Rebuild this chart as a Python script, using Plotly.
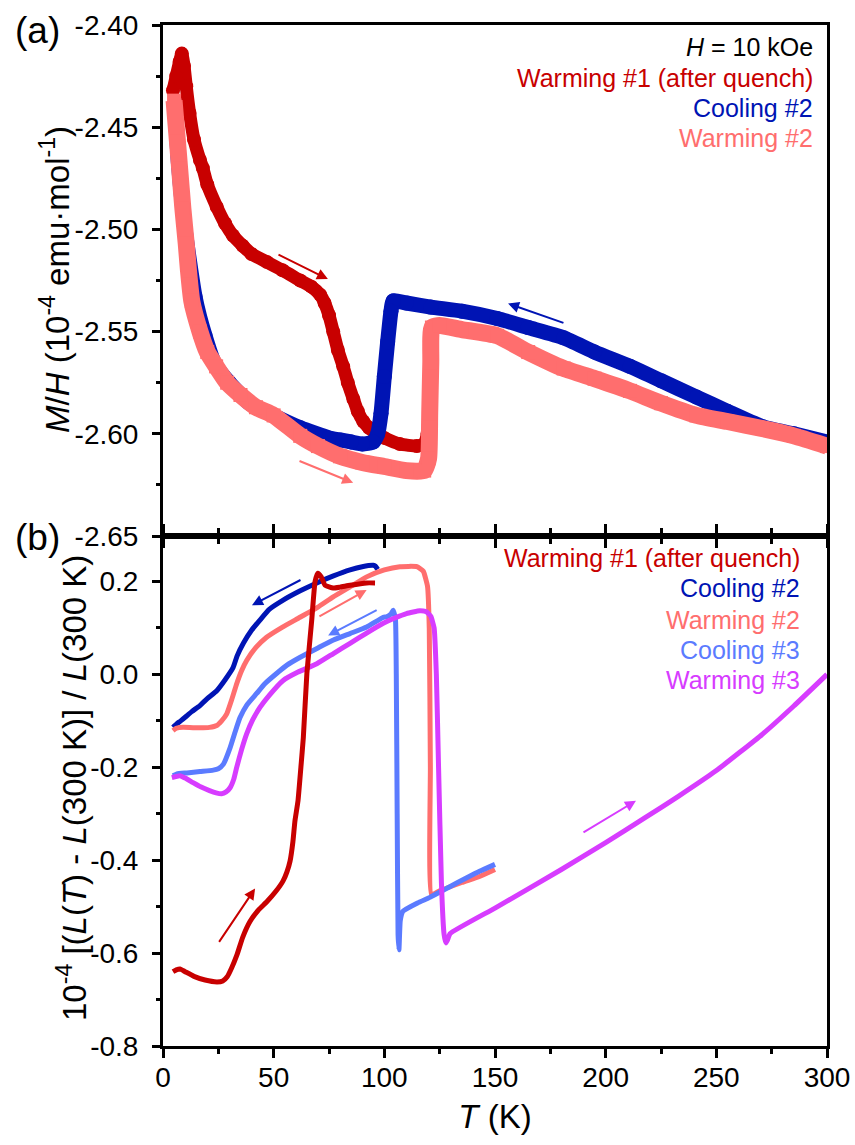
import plotly.graph_objects as go

# ---------------- Panel (a): magnetic susceptibility M/H ----------------
mh_warm1_T = [4.5, 6, 7.5, 8.5, 9.5, 10.5, 12, 14, 16.7, 18, 20, 24.3, 28, 31.6, 36, 40, 47,
              54, 62, 67, 71, 73, 75, 76.9, 79, 81.4, 83.5, 86, 88, 90.5, 93, 96.6, 100,
              107, 114.7, 118, 119.5, 120.3, 121, 121.5, 122, 125]
mh_warm1 = [-2.432, -2.425, -2.418, -2.414, -2.420, -2.430, -2.443, -2.456, -2.466, -2.470,
            -2.478, -2.489, -2.497, -2.503, -2.508, -2.512, -2.516, -2.520, -2.525, -2.528,
            -2.532, -2.536, -2.542, -2.550, -2.559, -2.567, -2.575, -2.583, -2.589, -2.594,
            -2.597, -2.600, -2.602, -2.605, -2.606, -2.605, -2.600, -2.585, -2.568, -2.556,
            -2.549, -2.547]

mh_cool2_T = [300, 285, 271, 255, 241, 225, 211, 195, 181, 165, 151, 135, 121, 110, 104,
              103, 101.5, 100, 98.5, 97, 95, 90, 85, 80, 75, 62, 48, 39, 30, 23.5, 19,
              14.5, 10, 7, 5.4]
mh_cool2 = [-2.604, -2.600, -2.5966, -2.589, -2.582, -2.574, -2.567, -2.560, -2.553, -2.548,
            -2.5436, -2.540, -2.538, -2.536, -2.535, -2.540, -2.555, -2.572, -2.590, -2.600,
            -2.604, -2.605, -2.604, -2.603, -2.602, -2.597, -2.590, -2.585, -2.575, -2.566,
            -2.552, -2.533, -2.500, -2.468, -2.440]

mh_warm2_T = [5, 6, 7.5, 9, 10.5, 11.5, 13, 16.7, 20, 24, 29, 35, 42, 50, 62, 70, 80, 90,
              100, 110, 118, 120, 120.5, 121, 121.5, 125, 135, 151, 165, 181, 195, 211, 225,
              241, 255, 271, 285, 300]
mh_warm2 = [-2.437, -2.450, -2.470, -2.490, -2.507, -2.520, -2.535, -2.550, -2.560, -2.567,
            -2.575, -2.581, -2.587, -2.591, -2.601, -2.606, -2.611, -2.614, -2.616, -2.618,
            -2.618, -2.612, -2.590, -2.565, -2.548, -2.547, -2.549, -2.552, -2.560, -2.568,
            -2.573, -2.579, -2.585, -2.591, -2.594, -2.5975, -2.601, -2.606]

# ---------------- Panel (b): relative length change ----------------
dl_warm1_T = [4.5, 6, 7.7, 10, 14, 19, 24.4, 27, 29, 31, 33.4, 36, 39.3, 43, 47, 51, 54.2,
              56, 57.4, 58.7, 59.6, 61, 62.3, 63.4, 65, 67.2, 68.7, 70, 71.5, 73.2, 76.9,
              80, 84.5, 92, 95.8]
dl_warm1 = [-0.640, -0.636, -0.634, -0.640, -0.650, -0.658, -0.662, -0.660, -0.651, -0.632,
            -0.604, -0.566, -0.532, -0.508, -0.489, -0.467, -0.445, -0.425, -0.402, -0.360,
            -0.316, -0.272, -0.200, -0.136, 0.002, 0.117, 0.200, 0.218, 0.210, 0.192, 0.186,
            0.188, 0.192, 0.197, 0.197]

dl_cool2_T = [97, 96, 95, 90, 84.5, 77, 69.5, 62, 54.3, 48, 43.8, 40, 36.3, 33.5, 31.7, 28,
              24.3, 20, 16.7, 13, 10.8, 8, 6.3, 4.5]
dl_cool2 = [0.226, 0.233, 0.235, 0.232, 0.225, 0.212, 0.197, 0.180, 0.160, 0.140, 0.117,
            0.095, 0.067, 0.040, 0.015, -0.012, -0.035, -0.052, -0.067, -0.080, -0.089,
            -0.100, -0.106, -0.114]

dl_warm2_T = [4.5, 6, 9, 16.7, 21, 24.3, 26.5, 28.8, 31, 33.3, 35.5, 37.8, 42, 46.8, 54,
              61.9, 70, 76.9, 85, 92, 100, 107, 114.7, 117.6, 119.5, 120.3, 120.8, 121.3,
              125, 135, 143, 150]
dl_warm2 = [-0.121, -0.116, -0.114, -0.115, -0.114, -0.110, -0.100, -0.085, -0.055, -0.020,
            0.008, 0.030, 0.058, 0.080, 0.102, 0.123, 0.145, 0.167, 0.190, 0.210, 0.225,
            0.232, 0.232, 0.222, 0.190, 0.100, -0.200, -0.474, -0.466, -0.448, -0.435, -0.420]

dl_cool3_T = [150, 143, 130, 120.6, 115, 108.4, 107.2, 106.6, 106.2, 105.8, 105.4, 105, 104,
              103, 101, 99.5, 92, 84.5, 77, 70, 62, 56, 51.3, 46, 42.3, 38, 34.8, 32.5,
              30.3, 27.3, 25, 22.7, 16.7, 10.8, 6.3, 4.5]
dl_cool3 = [-0.409, -0.424, -0.456, -0.480, -0.492, -0.510, -0.530, -0.593, -0.560, -0.300,
            0.000, 0.120, 0.138, 0.130, 0.124, 0.123, 0.102, 0.088, 0.074, 0.057, 0.037,
            0.020, 0.002, -0.020, -0.041, -0.065, -0.093, -0.125, -0.158, -0.193, -0.203,
            -0.206, -0.209, -0.212, -0.214, -0.218]

dl_warm3_T = [4, 7.7, 10, 13.6, 17, 21, 24, 26.5, 28.5, 30.3, 32, 33.3, 35.5, 37.8, 40.5,
              43.8, 48, 54.3, 61, 69.5, 77, 84.5, 92, 99.5, 105, 110, 116, 119, 121, 122.5,
              123.5, 124.5, 125.8, 127, 127.8, 128.5, 129.7, 150, 180, 200, 218, 233, 250,
              271, 285, 300]
dl_warm3 = [-0.222, -0.218, -0.223, -0.233, -0.242, -0.250, -0.255, -0.257, -0.253, -0.244,
            -0.225, -0.200, -0.162, -0.128, -0.098, -0.071, -0.045, -0.013, 0.005, 0.023,
            0.045, 0.067, 0.089, 0.110, 0.122, 0.131, 0.137, 0.135, 0.125, 0.100, 0.000,
            -0.200, -0.450, -0.560, -0.578, -0.572, -0.558, -0.503, -0.420, -0.362, -0.308,
            -0.262, -0.207, -0.128, -0.068, 0.000]

# ---------------- Axis ticks ----------------
x_ticks = [0, 50, 100, 150, 200, 250, 300]
x_ticktext = ["0", "50", "100", "150", "200", "250", "300"]
mh_ticks = [-2.65, -2.60, -2.55, -2.50, -2.45, -2.40]
mh_ticktext = ["-2.65", "-2.60", "-2.55", "-2.50", "-2.45", "-2.40"]
dl_ticks = [-0.8, -0.6, -0.4, -0.2, 0.0, 0.2]
dl_ticktext = ["-0.8", "-0.6", "-0.4", "-0.2", "0.0", "0.2"]

# ---------------- Colours ----------------
C_WARM1 = "#C80000"
C_COOL2 = "#0014B4"
C_WARM2 = "#FF6E6E"
C_COOL3 = "#5B7BFF"
C_WARM3 = "#D73CFF"

FONT = "Liberation Sans, Arial, sans-serif"

fig = go.Figure()

# Panel (a) traces: thick marker bands
fig.add_trace(go.Scatter(x=mh_warm1_T, y=mh_warm1, xaxis="x2", yaxis="y2", mode="lines+markers",
                         line=dict(color=C_WARM1, width=13, shape="spline", smoothing=0.5),
                         marker=dict(symbol="circle", size=14, color=C_WARM1),
                         name="Warming #1 (after quench)", showlegend=False))
fig.add_trace(go.Scatter(x=mh_cool2_T, y=mh_cool2, xaxis="x2", yaxis="y2", mode="lines+markers",
                         line=dict(color=C_COOL2, width=15, shape="spline", smoothing=0.5),
                         marker=dict(symbol="circle", size=15, color=C_COOL2),
                         name="Cooling #2", showlegend=False))
fig.add_trace(go.Scatter(x=mh_warm2_T, y=mh_warm2, xaxis="x2", yaxis="y2", mode="lines+markers",
                         line=dict(color=C_WARM2, width=17, shape="spline", smoothing=0.5),
                         marker=dict(symbol="square", size=14, color=C_WARM2),
                         name="Warming #2", showlegend=False))

# Panel (b) traces: smooth lines
for xs, ys, col, nm in [(dl_cool2_T, dl_cool2, C_COOL2, "Cooling #2"),
                        (dl_warm2_T, dl_warm2, C_WARM2, "Warming #2"),
                        (dl_cool3_T, dl_cool3, C_COOL3, "Cooling #3"),
                        (dl_warm3_T, dl_warm3, C_WARM3, "Warming #3"),
                        (dl_warm1_T, dl_warm1, C_WARM1, "Warming #1 (after quench)")]:
    fig.add_trace(go.Scatter(x=xs, y=ys, xaxis="x", yaxis="y", mode="lines",
                             line=dict(color=col, width=5, shape="spline", smoothing=0.4),
                             name=nm, showlegend=False))

axis_common = dict(showline=True, linecolor="black", linewidth=3, showgrid=False,
                   zeroline=False, tickcolor="black", tickwidth=2.5, automargin=False,
                   tickfont=dict(family=FONT, size=28, color="black"))

fig.update_layout(
    width=855, height=1145,
    margin=dict(l=163, r=28, t=25, b=99),
    paper_bgcolor="white", plot_bgcolor="white",
    font=dict(family=FONT, color="black"),
    xaxis=dict(domain=[0, 1], range=[0, 300], anchor="y", ticks="outside", ticklen=9,
               mirror="allticks", tickvals=x_ticks, ticktext=x_ticktext, ticklabelstandoff=-5,
               minor=dict(dtick=25, tick0=0, ticks="outside", ticklen=5, tickwidth=2.5,
                          tickcolor="black"),
               title=dict(text="<i>T</i> (K)", font=dict(family=FONT, size=33), standoff=14),
               **axis_common),
    yaxis=dict(domain=[0, 0.4995], range=[-0.8, 0.298], anchor="x", ticks="outside",
               ticklen=8, mirror=True, tickvals=dl_ticks, ticktext=dl_ticktext,
               ticklabelstandoff=8,
               minor=dict(dtick=0.1, tick0=0, ticks="outside", ticklen=4, tickwidth=2.5,
                          tickcolor="black"),
               **axis_common),
    xaxis2=dict(domain=[0, 1], range=[0, 300], anchor="y2", matches="x", ticks="outside",
                ticklen=9, mirror=True, showticklabels=False, tickvals=x_ticks,
                minor=dict(dtick=25, tick0=0, ticks="outside", ticklen=5, tickwidth=2.5,
                           tickcolor="black"),
                **axis_common),
    yaxis2=dict(domain=[0.4995, 1], range=[-2.65, -2.40], anchor="x2", ticks="outside",
                ticklen=8, mirror=True, tickvals=mh_ticks, ticktext=mh_ticktext,
                ticklabelstandoff=8,
                minor=dict(dtick=0.025, tick0=-2.65, ticks="outside", ticklen=4,
                           tickwidth=2.5, tickcolor="black"),
                **axis_common),
)

annotations = []

# Y-axis titles (rotated)
annotations.append(dict(text="<i>M</i>/<i>H</i> (10<sup>-4</sup> emu·mol<sup>-1</sup>)",
                        xref="paper", yref="paper", x=(55 - 163) / 664, y=(1046 - 280) / 1021,
                        xanchor="center", yanchor="middle", textangle=-90, showarrow=False,
                        font=dict(family=FONT, size=33, color="black")))
annotations.append(dict(text="10<sup>-4</sup> [(<i>L</i>(<i>T</i>) - <i>L</i>(300 K)] / <i>L</i>(300 K)",
                        xref="paper", yref="paper", x=(72 - 163) / 664, y=(1046 - 788) / 1021,
                        xanchor="center", yanchor="middle", textangle=-90, showarrow=False,
                        font=dict(family=FONT, size=33, color="black")))

# Panel labels
annotations.append(dict(text="(a)", xref="paper", yref="paper", x=(37 - 163) / 664,
                        y=(1046 - 30) / 1021, xanchor="center", yanchor="middle",
                        showarrow=False, font=dict(family=FONT, size=37, color="black")))
annotations.append(dict(text="(b)", xref="paper", yref="paper", x=(37 - 163) / 664,
                        y=(1046 - 537) / 1021, xanchor="center", yanchor="middle",
                        showarrow=False, font=dict(family=FONT, size=37, color="black")))

# Panel (a) key
for txt, col, yv in [("<i>H</i> = 10 kOe", "black", -2.4108),
                     ("Warming #1 (after quench)", C_WARM1, -2.4260),
                     ("Cooling #2", C_COOL2, -2.4407),
                     ("Warming #2", C_WARM2, -2.4554)]:
    annotations.append(dict(text=txt, xref="x2", yref="y2", x=294.6, y=yv, xanchor="right",
                            yanchor="middle", showarrow=False,
                            font=dict(family=FONT, size=25, color=col)))

# Panel (b) key
for txt, col, yv in [("Warming #1 (after quench)", C_WARM1, 0.251),
                     ("Cooling #2", C_COOL2, 0.186),
                     ("Warming #2", C_WARM2, 0.117),
                     ("Cooling #3", C_COOL3, 0.052),
                     ("Warming #3", C_WARM3, -0.013)]:
    annotations.append(dict(text=txt, xref="x", yref="y", x=288.7, y=yv, xanchor="right",
                            yanchor="middle", showarrow=False,
                            font=dict(family=FONT, size=25, color=col)))

# Direction arrows (tail -> head)
arrows = [
    ("x2", "y2", (51.5, -2.5120), (74.5, -2.5243), C_WARM1),
    ("x2", "y2", (181.6, -2.5460), (155.9, -2.5363), C_COOL2),
    ("x2", "y2", (61.0, -2.6130), (85.9, -2.6240), C_WARM2),
    ("x", "y", (62.8, 0.205), (40.2, 0.149), C_COOL2),
    ("x", "y", (70.0, 0.123), (92.0, 0.182), C_WARM2),
    ("x", "y", (97.2, 0.140), (74.6, 0.084), C_COOL3),
    ("x", "y", (24.9, -0.579), (41.6, -0.461), C_WARM1),
    ("x", "y", (189.3, -0.342), (213.7, -0.272), C_WARM3),
]
for xr, yr, tail, head, col in arrows:
    annotations.append(dict(xref=xr, yref=yr, axref=xr, ayref=yr, x=head[0], y=head[1],
                            ax=tail[0], ay=tail[1], text="", showarrow=True, arrowhead=2,
                            arrowsize=1.1, arrowwidth=2, arrowcolor=col, standoff=0))

fig.update_layout(annotations=annotations)

fig.write_html("out.html")
